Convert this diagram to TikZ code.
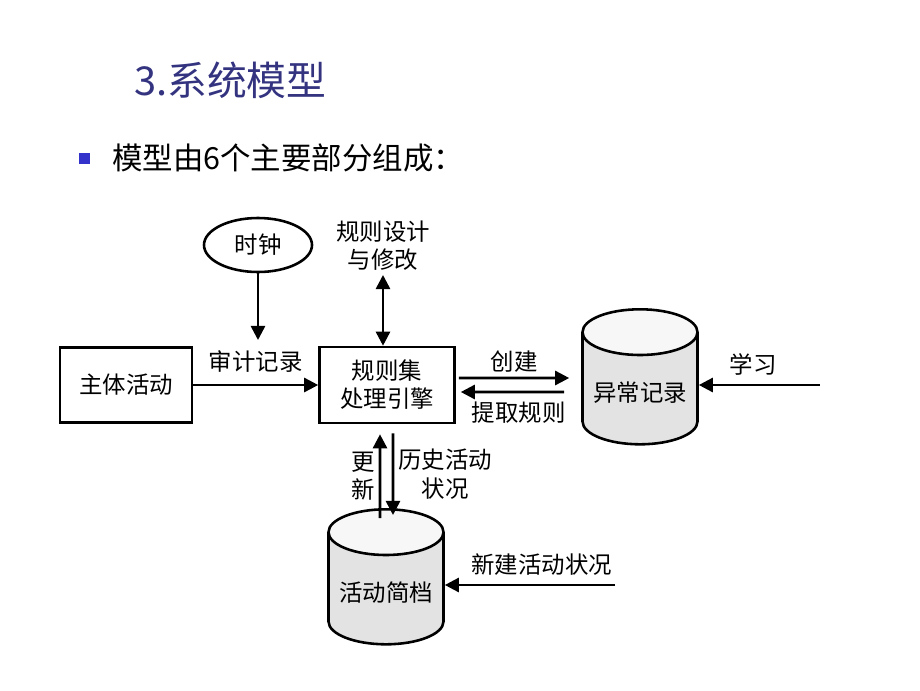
\documentclass[tikz,border=0pt]{standalone}
\usepackage{fontspec}
\setmainfont{Noto Sans CJK SC}
\usetikzlibrary{arrows.meta}
\usetikzlibrary{shapes.geometric}
\usetikzlibrary{positioning}

\definecolor{titleblue}{RGB}{51,51,128}
\definecolor{bulletblue}{RGB}{51,51,204}

\begin{document}
\begin{tikzpicture}[x=0.03cm, y=-0.03cm, font=\fontsize{20}{24}\selectfont]
	\tikzstyle{boxStyle}=[draw, line width=2.2pt, minimum width=3.96cm, minimum height=2.25cm, align=center]
	\tikzstyle{clockStyle}=[ellipse, draw, line width=2.2pt, minimum width=3.24cm, minimum height=1.62cm]
	\tikzstyle{storeStyle}=[cylinder, shape border rotate=90, draw, line width=2.2pt, aspect=0.45,
		minimum width=3.45cm, minimum height=4.05cm,
		cylinder uses custom fill, cylinder body fill=gray!22, cylinder end fill=gray!6]
	\tikzstyle{flowStyle}=[line width=2.2pt, -{Triangle[length=12pt, width=12pt]}]
	\tikzstyle{twoWayStyle}=[line width=2.2pt, {Triangle[length=12pt, width=12pt]}-{Triangle[length=12pt, width=12pt]}]
	\useasboundingbox (0,0) rectangle (920,690);
	% heading
	\node[anchor=west, text=titleblue, font=\fontsize{34}{40}\selectfont] (heading) at (130,80) {3.系统模型};
	\node[fill=bulletblue, minimum size=0.33cm, inner sep=0pt] (dot) at (84,158) {};
	\node[anchor=west, font=\fontsize{26}{30}\selectfont] (lead) at (108,158) {模型由6个主要部分组成：};
	% nodes
	\node[clockStyle] (clock) at (258,245) {时钟};
	\node[align=center] (design) at (383,246) {规则设计\\与修改};
	\node[boxStyle] (actv) at (126,385) {主体活动};
	\node[boxStyle, minimum width=4.05cm, minimum height=2.28cm] (engine) at (387,385) {规则集\\处理引擎};
	\node[storeStyle] (anom) at (640,393) {异常记录};
	\node[storeStyle] (profile) at (386,593) {活动简档};
	\coordinate (tick) at (258,340);
	\coordinate (learn) at (820,385);
	\coordinate (newin) at (615,585);
	% connectors
	\draw[flowStyle] (clock) -- (tick);
	\draw[twoWayStyle] (design) -- (design |- engine.north);
	\draw[flowStyle] (actv) -- (engine) node[midway, above=6pt] {审计记录};
	\draw[flowStyle] ([xshift=0.09cm, yshift=0.21cm]engine.east) -- ([xshift=-0.36cm, yshift=0.45cm]anom.west) node[midway, above] {创建};
	\draw[flowStyle] ([xshift=-0.51cm, yshift=0.03cm]anom.west) -- ([xshift=0.15cm, yshift=-0.21cm]engine.east) node[pos=0.44, below=4pt] {提取规则};
	\draw[flowStyle] (learn) -- (anom.east |- learn) node[pos=0.55, above=4pt] {学习};
	\draw[flowStyle] ([xshift=-0.18cm, yshift=-0.3cm]profile.north) -- ([xshift=-0.21cm, yshift=-0.3cm]engine.south) node[midway, left, align=center] {更\\新};
	\draw[flowStyle] ([xshift=0.18cm, yshift=-0.27cm]engine.south) -- ([xshift=0.21cm, yshift=-0.21cm]profile.north) node[midway, right, align=center] {历史活动\\状况};
	\draw[flowStyle] (newin) -- (profile.east |- newin) node[pos=0.43, above=4pt] {新建活动状况};
\end{tikzpicture}
\end{document}
